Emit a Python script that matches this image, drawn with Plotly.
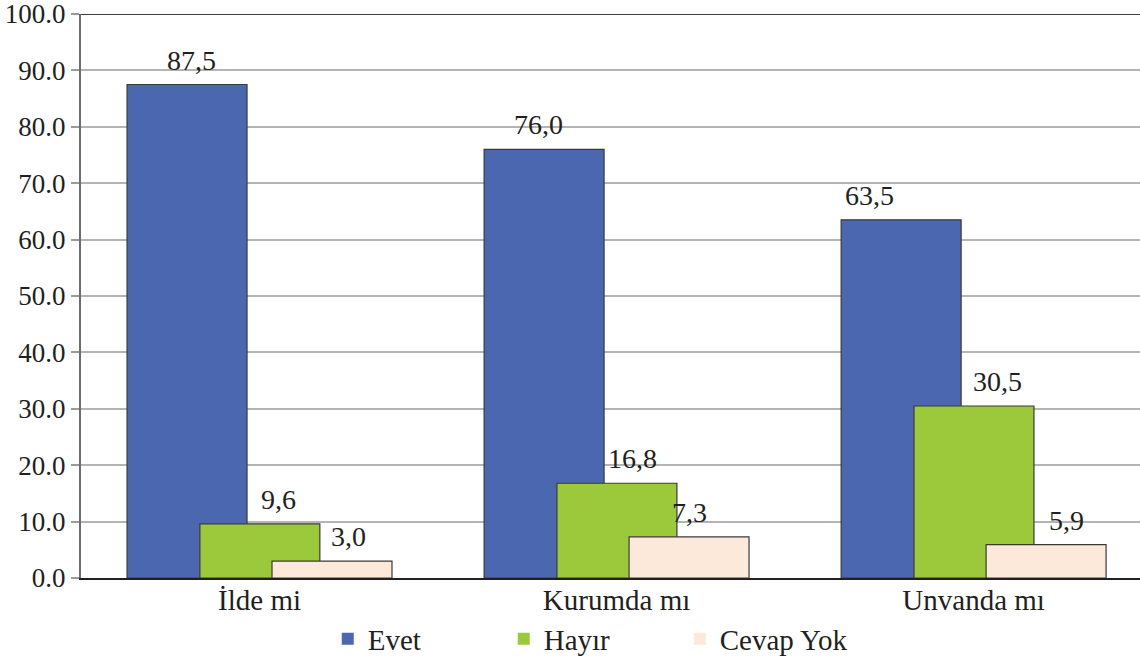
import plotly.graph_objects as go

categories = ["İlde mi", "Kurumda mı", "Unvanda mı"]
series_names = ["Evet", "Hayır", "Cevap Yok"]
evet = [87.5, 76.0, 63.5]
hayir = [9.6, 16.8, 30.5]
cevap_yok = [3.0, 7.3, 5.9]
y_ticks = [0, 10, 20, 30, 40, 50, 60, 70, 80, 90, 100]

values = [evet, hayir, cevap_yok]
colors = ["#4A67B0", "#9BC93B", "#FDE9D9"]
offsets = [-0.371, -0.167, 0.035]
bar_width = 0.336
label_dx = [[4, -6, -32], [19, 16, 24], [16, 0, 20]]

FONT = "Liberation Serif, serif"
TXT = "#231f20"

fig = go.Figure()
for name, vals, col, off in zip(series_names, values, colors, offsets):
    fig.add_trace(go.Bar(
        x=categories, y=vals, name=name, offset=off, width=bar_width,
        marker=dict(color=col, line=dict(color="#3a3a3a", width=1.2)),
        showlegend=False,
    ))
    fig.add_trace(go.Scatter(
        x=[None], y=[None], mode="markers", name=name,
        marker=dict(symbol="square", size=16, color=col),
    ))

annotations = []
for vals, off, dxs in zip(values, offsets, label_dx):
    for i, (c, v) in enumerate(zip(categories, vals)):
        annotations.append(dict(
            x=i + off + bar_width / 2, y=v, xref="x", yref="y",
            text=f"{v:.1f}".replace(".", ","), showarrow=False,
            yanchor="bottom", xanchor="center", xshift=dxs[i], yshift=7,
            font=dict(family=FONT, size=28, color=TXT),
        ))

fig.update_layout(
    width=1140, height=662,
    margin=dict(l=81, r=0, t=14, b=84, autoexpand=False),
    paper_bgcolor="white", plot_bgcolor="white",
    barmode="overlay",
    font=dict(family=FONT, size=28, color=TXT),
    annotations=annotations,
    showlegend=True,
    legend=dict(
        orientation="h", x=0.233, xanchor="left", y=-0.108, yanchor="middle",
        font=dict(family=FONT, size=29, color=TXT), bgcolor="rgba(0,0,0,0)",
        entrywidth=131, itemsizing="constant",
    ),
    shapes=[dict(type="line", xref="paper", yref="y", x0=0, x1=1, y0=100, y1=100,
                 line=dict(color="#404040", width=2))],
)
fig.update_xaxes(
    type="category", range=[-0.5, 2.466], automargin=False,
    showgrid=False, showline=True, linecolor=TXT, linewidth=2,
    ticks="", tickfont=dict(family=FONT, size=29, color=TXT),
    ticklabelstandoff=-5,
)
fig.update_yaxes(
    range=[0, 100], tickvals=y_ticks, tickformat=".1f", automargin=False,
    ticklabeloverflow="allow",
    showgrid=True, gridcolor="#b4b4b4", gridwidth=2,
    showline=True, linecolor="#6d6d6d", linewidth=2,
    ticks="outside", ticklen=8, tickcolor="#9a9a9a", tickwidth=2,
    tickfont=dict(family=FONT, size=27, color=TXT), zeroline=False,
)

fig.write_html(
    "out.html",
    config={"displayModeBar": False},
    post_script="document.body.style.margin='0';document.body.style.overflow='hidden';",
)
